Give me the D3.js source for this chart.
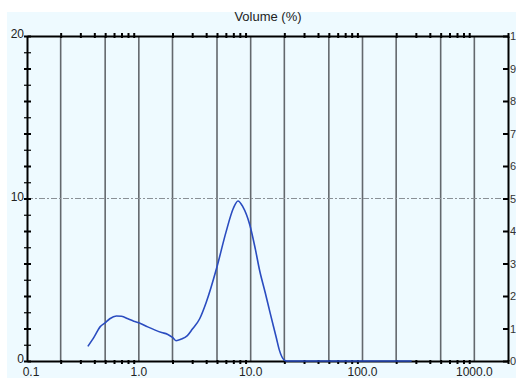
<!DOCTYPE html>
<html>
<head>
<meta charset="utf-8">
<script src="https://cdn.jsdelivr.net/npm/d3@7"></script>
<style>
  body { margin: 0; background: #fff; }
  svg { display: block; font-family: "Liberation Sans", Arial, sans-serif; }
</style>
</head>
<body>
<script>
// particle size (um) and volume (%)
const sizes = [0.35, 0.4, 0.45, 0.5, 0.55, 0.63, 0.7, 0.8, 0.9, 1.0, 1.2, 1.4, 1.6, 1.8, 2.0, 2.15,
    2.4, 2.7, 3.0, 3.5, 4.0, 5.0, 6.0, 7.0, 7.7, 8.5, 9.8, 11, 12, 13.5, 15, 17, 18, 20, 21, 50, 100, 275];
const volumes = [0.9, 1.5, 2.1, 2.35, 2.6, 2.77, 2.75, 2.6, 2.45, 2.36, 2.1, 1.9, 1.75, 1.65, 1.45, 1.25,
    1.35, 1.55, 1.95, 2.6, 3.6, 5.8, 7.9, 9.4, 9.85, 9.5, 8.4, 6.9, 5.6, 4.2, 2.9, 1.4, 0.7, 0.05, 0, 0, 0, 0];

const xTickLabels = ["0.1", "1.0", "10.0", "100.0", "1000.0"];
const xTickValues = [0.1, 1, 10, 100, 1000];
const gridValues = [0.2, 0.5, 1, 2, 5, 10, 20, 50, 100, 200, 500, 1000];
const leftLabels = [0, 10, 20];
const rightLabels = ["0", "1", "2", "3", "4", "5", "6", "7", "8", "9", "1"];

const width = 516, height = 378;
const plotLeft = 27, plotRight = 508, plotTop = 36, plotBottom = 361;

const svg = d3.select("body").append("svg")
    .attr("width", width)
    .attr("height", height);

svg.append("rect")
    .attr("x", 7).attr("y", 10)
    .attr("width", width - 7).attr("height", height - 10)
    .attr("fill", "#eefaff");

const x = d3.scaleLog().domain([0.1, 2000]).range([plotLeft, plotRight]);
const y = d3.scaleLinear().domain([0, 20]).range([plotBottom, plotTop]);

// title (top of the letters is hidden under the white strip)
svg.append("text")
    .attr("x", 268).attr("y", 21)
    .attr("text-anchor", "middle")
    .style("font-size", "13px")
    .attr("fill", "#222")
    .text("Volume (%)");
svg.append("rect").attr("width", width).attr("height", 12).attr("fill", "#fff");

// vertical grid
svg.append("g")
    .selectAll("line")
    .data(gridValues)
    .enter().append("line")
    .attr("x1", d => x(d)).attr("x2", d => x(d))
    .attr("y1", plotTop).attr("y2", plotBottom)
    .attr("stroke", "#63686d")
    .attr("stroke-width", 1.6);

// dashed line at 10
svg.append("line")
    .attr("x1", plotLeft).attr("x2", plotRight)
    .attr("y1", y(10)).attr("y2", y(10))
    .attr("stroke", "#8a9096")
    .attr("stroke-width", 1)
    .attr("stroke-dasharray", "6,2,2,2");

// minor ticks on log axis
const minor = [];
for (let e = -1; e <= 3; e++) {
    for (let m = 2; m <= 9; m++) {
        const v = m * Math.pow(10, e);
        if (v <= 2000) minor.push(v);
    }
}

const xAxisBottom = d3.axisBottom(x)
    .tickValues(minor)
    .tickSize(3)
    .tickSizeOuter(0)
    .tickFormat("");
const xAxisTop = d3.axisTop(x)
    .tickValues(minor)
    .tickSize(3)
    .tickSizeOuter(0)
    .tickFormat("");

svg.append("g")
    .attr("transform", `translate(0,${plotBottom})`)
    .call(xAxisBottom)
    .call(g => g.select(".domain").attr("stroke", "#000").attr("stroke-width", 2))
    .call(g => g.selectAll(".tick line").attr("stroke", "#000").attr("stroke-width", 2).attr("y1", -1));

svg.append("g")
    .attr("transform", `translate(0,${plotTop})`)
    .call(xAxisTop)
    .call(g => g.select(".domain").attr("stroke", "#000").attr("stroke-width", 2))
    .call(g => g.selectAll(".tick line").attr("stroke", "#000").attr("stroke-width", 2).attr("y1", 2));

// x labels
svg.append("g")
    .selectAll("text")
    .data(xTickValues)
    .enter().append("text")
    .attr("x", (d, i) => x(d) + (i === 0 ? 4 : 0))
    .attr("y", 376)
    .attr("text-anchor", "middle")
    .style("font-size", "12px")
    .attr("fill", "#222")
    .text((d, i) => xTickLabels[i]);

// left axis
const yAxis = d3.axisLeft(y)
    .ticks(20)
    .tickSize(4)
    .tickSizeOuter(0)
    .tickFormat("");
svg.append("g")
    .attr("transform", `translate(${plotLeft},0)`)
    .call(yAxis)
    .call(g => g.select(".domain").attr("stroke", "#000").attr("stroke-width", 2))
    .call(g => g.selectAll(".tick line").attr("stroke", "#000")
        .attr("stroke-width", (d, i) => i % 2 ? 1.2 : 2)
        .attr("x2", -3).attr("x1", 4));

svg.append("g")
    .selectAll("text")
    .data(leftLabels)
    .enter().append("text")
    .attr("x", 24)
    .attr("y", d => y(d) + 2)
    .attr("text-anchor", "end")
    .style("font-size", "12px")
    .attr("fill", "#222")
    .text(d => d);

// right axis (0..10, only the first digit fits at the edge)
const y2 = d3.scaleLinear().domain([0, 10]).range([plotBottom, plotTop]);
const yAxisRight = d3.axisRight(y2)
    .ticks(10)
    .tickSize(0)
    .tickSizeOuter(0)
    .tickFormat("");
svg.append("g")
    .attr("transform", `translate(${plotRight},0)`)
    .call(yAxisRight)
    .call(g => g.select(".domain").attr("stroke", "#000").attr("stroke-width", 2))
    .call(g => g.selectAll(".tick line").attr("stroke", "#000").attr("stroke-width", 2)
        .attr("x1", -5).attr("x2", 0));

svg.append("g")
    .selectAll("text")
    .data(rightLabels)
    .enter().append("text")
    .attr("x", 510)
    .attr("y", (d, i) => y2(i) + 4)
    .style("font-size", "11px")
    .attr("fill", "#333")
    .text(d => d);

// curve
const pts = sizes.map((s, i) => [s, volumes[i]]);
const line = d3.line()
    .x(d => x(d[0]))
    .y(d => y(d[1]))
    .curve(d3.curveMonotoneX);

svg.append("path")
    .datum(pts)
    .attr("fill", "none")
    .attr("stroke", "#2a4cc0")
    .attr("stroke-width", 1.6)
    .attr("d", line);
</script>
</body>
</html>
